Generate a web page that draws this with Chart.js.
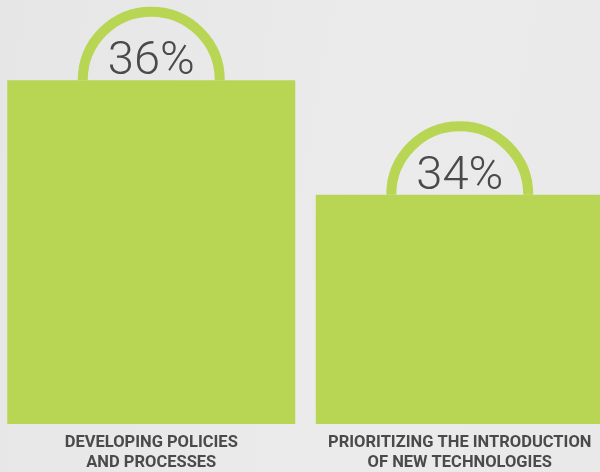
<!DOCTYPE html>
<html>
<head>
<meta charset="utf-8">
<script src="https://cdn.jsdelivr.net/npm/chart.js@4"></script>
<style>
html,body{margin:0;padding:0;width:600px;height:472px;overflow:hidden;}
body{background:linear-gradient(100deg,#e6e6e6 0%,#ebebeb 60%,#e9e9e9 100%);position:relative;}
#wrap{position:absolute;left:-3.25px;top:0;width:617px;height:472px;}
</style>
</head>
<body>
<div id="wrap"><canvas id="c"></canvas></div>
<script>
const categories = [["DEVELOPING POLICIES","AND PROCESSES"],["PRIORITIZING THE INTRODUCTION","OF NEW TECHNOLOGIES"]];
const values = [36, 34];
const valueLabels = ["36%", "34%"];

const GREEN = '#b8d554';
const TEXT = '#4a4a4a';

const handlePlugin = {
  id: 'handles',
  afterDatasetsDraw(chart) {
    const ctx = chart.ctx;
    const meta = chart.getDatasetMeta(0);
    meta.data.forEach((bar, i) => {
      const x = bar.x, y = bar.y;
      ctx.save();
      ctx.beginPath();
      ctx.arc(x, y, 68.5, Math.PI, 2 * Math.PI);
      ctx.lineWidth = 10;
      ctx.strokeStyle = GREEN;
      ctx.stroke();
      ctx.fillStyle = TEXT;
      ctx.font = '300 47px Roboto';
      ctx.textAlign = 'center';
      ctx.textBaseline = 'alphabetic';
      ctx.fillText(valueLabels[i], x, y - 6);
      ctx.restore();
    });
  }
};

new Chart(document.getElementById('c'), {
  type: 'bar',
  data: {
    labels: categories,
    datasets: [{
      data: values,
      backgroundColor: GREEN,
      borderWidth: 0,
      barPercentage: 0.9335,
      categoryPercentage: 1.0
    }]
  },
  options: {
    responsive: true,
    maintainAspectRatio: false,
    animation: false,
    layout: { padding: 0 },
    plugins: { legend: { display: false }, tooltip: { enabled: false } },
    scales: {
      x: {
        grid: { display: false, drawTicks: false },
        border: { display: false },
        ticks: {
          color: TEXT,
          font: { family: 'Roboto', weight: 'bold', size: 16.5, lineHeight: 1.2 },
          padding: 9,
          maxRotation: 0,
          autoSkip: false
        },
        afterFit(s) { s.height = 48; }
      },
      y: {
        display: false,
        min: 30,
        max: 37.4
      }
    }
  },
  plugins: [handlePlugin]
});
</script>
</body>
</html>
